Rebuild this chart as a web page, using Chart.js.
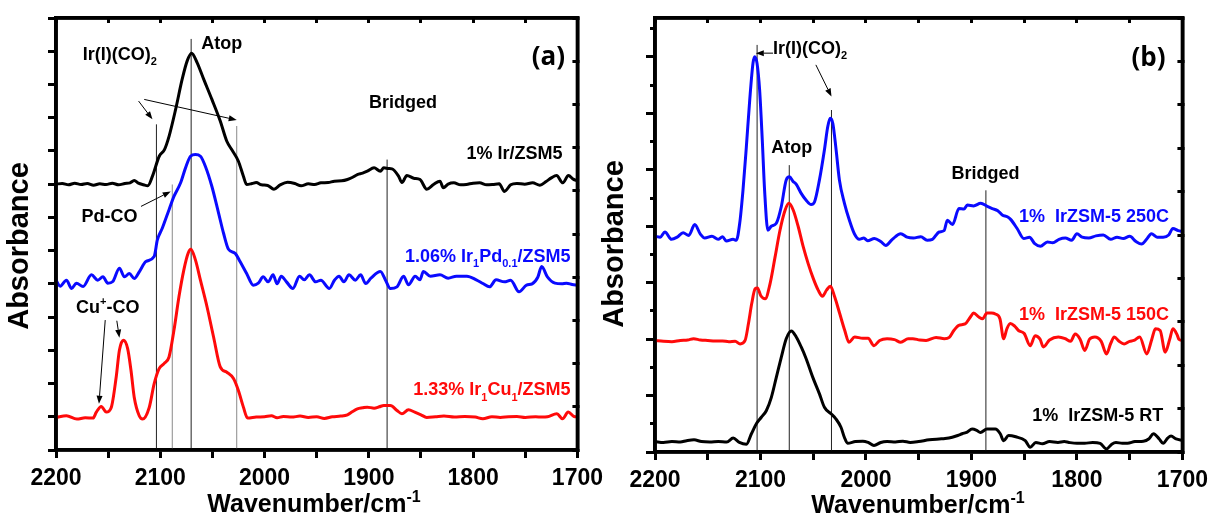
<!DOCTYPE html>
<html>
<head>
<meta charset="utf-8">
<script src="https://cdn.jsdelivr.net/npm/chart.js@4.4.1/dist/chart.umd.min.js"></script>
<style>
  html, body { margin: 0; padding: 0; background: #fff; width: 1215px; height: 521px; overflow: hidden; }
  .panel { position: absolute; top: 0; height: 521px; }
  #pa { left: 0; width: 610px; }
  #pb { left: 598px; width: 617px; }
</style>
</head>
<body>
<div class="panel" id="pa"><canvas id="ca" width="610" height="521"></canvas></div>
<div class="panel" id="pb"><canvas id="cb" width="617" height="521"></canvas></div>
<script>
// ---- x axis (wavenumber, cm^-1) ----
const wavenumberTicks = [2200, 2100, 2000, 1900, 1800, 1700];

// ---- panel (a): offset absorbance, [wavenumber, value] ----
const spectrumIr = [
  [2200,8.0],[2194,8.02],[2188,7.98],[2182,8.03],[2176,7.99],[2170,8.02],[2164,7.97],[2158,8.01],[2152,7.99],[2146,8.03],
  [2140,7.98],[2134,8.02],[2129,8.04],[2125,8.11],[2121,8.03],[2116,7.98],[2112,7.95],[2107.5,8.24],[2101,8.84],[2096,9.04],
  [2091.6,9.44],[2085.3,10.25],[2079,11.16],[2074.2,11.71],[2070,11.94],[2064.7,11.66],[2058.4,11.16],[2050.5,10.55],[2042.5,9.9],[2036.2,9.29],
  [2031.5,9.04],[2025.1,8.69],[2020.3,8.24],[2017.2,7.99],[2012,8.02],[2008,8.05],[2003,7.98],[1997,7.96],[1991,7.85],[1985,7.98],
  [1978,8.06],[1971,8.02],[1965,7.95],[1958,8.01],[1952,7.99],[1946,8.04],[1939,8.05],[1933,8.09],[1926,8.1],[1920.5,8.14],
  [1916,8.2],[1911,8.29],[1906,8.33],[1901.5,8.39],[1895,8.49],[1889,8.39],[1885.7,8.49],[1881,8.47],[1877.8,8.46],[1871.5,8.24],
  [1868.3,8.05],[1863.5,8.26],[1857,8.18],[1850.9,8.14],[1844.5,7.85],[1838,7.99],[1831.8,8.09],[1828.6,7.89],[1824,8.0],[1818.5,8.04],
  [1812,7.98],[1806.5,7.99],[1800,8.03],[1793.8,8.04],[1787,7.98],[1781.2,7.99],[1775,8.01],[1770,7.78],[1764,7.98],[1758,8.02],
  [1750.6,8.0],[1743,8.04],[1736,7.97],[1730,8.08],[1725,8.19],[1720,8.26],[1714,8.04],[1708.6,8.26],[1704,8.15],[1700,8.1]
];
const spectrumIrPd = [
  [2200,5.11],[2196,4.93],[2190,5.11],[2185,4.86],[2180.4,5.02],[2174,4.92],[2166,5.27],[2160,5.11],[2155,5.21],[2150.3,5.02],
  [2145.5,5.07],[2139.2,5.47],[2134.4,5.21],[2129.7,5.31],[2125,5.16],[2120,5.37],[2113.8,5.67],[2105.9,5.82],[2102.8,6.32],[2098,6.68],
  [2091.6,7.23],[2086.9,7.63],[2080.5,8.04],[2075.8,8.49],[2071,8.84],[2066.3,8.89],[2061.5,8.84],[2056.8,8.54],[2050.5,7.93],[2044.1,7.13],
  [2039.4,6.53],[2034.6,6.04],[2028.2,5.92],[2023.5,5.67],[2017.2,5.31],[2010.8,4.96],[2006,5.02],[2001.3,5.21],[1996.6,5.06],[1991.8,5.27],
  [1988,5.0],[1984,5.23],[1979,5.06],[1972.8,4.86],[1966.5,5.23],[1962,5.12],[1957,5.27],[1951,5.06],[1946,5.11],[1937.9,4.86],
  [1933,5.11],[1928.5,5.23],[1924,5.06],[1919,5.27],[1913,5.11],[1907.9,5.27],[1903,5.01],[1898,5.17],[1888.9,5.37],[1884,5.11],
  [1879.4,4.86],[1873,4.91],[1866.7,5.23],[1862,4.97],[1855.6,5.23],[1851,5.12],[1847.7,5.37],[1841,5.23],[1831.8,5.27],[1824,5.17],
  [1816,5.23],[1806,5.23],[1797,5.12],[1790.6,5.01],[1784.3,4.91],[1778,5.12],[1770,5.06],[1764,5.11],[1756,4.76],[1748.8,4.96],
  [1743.4,5.0],[1738,5.2],[1734.3,5.52],[1728.8,5.21],[1721.5,5.02],[1715,5.0],[1710.5,5.02],[1705,4.98],[1700,4.96]
];
const spectrumIrCu = [
  [2200,0.98],[2190,1.03],[2180,0.93],[2172,0.97],[2164.5,0.96],[2161.3,1.14],[2156.6,1.31],[2151.8,1.14],[2147,1.28],[2142.3,2.19],
  [2139.2,3.0],[2135.4,3.3],[2131.3,3.05],[2128.1,2.4],[2125,1.59],[2120.2,1.03],[2117,0.93],[2110.6,1.28],[2105.9,1.99],[2101.1,2.45],
  [2096.4,2.6],[2091.6,2.8],[2086.9,3.6],[2082.1,4.61],[2077.4,5.42],[2073.3,5.92],[2070.7,6.04],[2066.3,5.72],[2061.5,5.11],[2055.2,4.31],
  [2048.9,3.4],[2042.5,2.5],[2036.2,2.34],[2029.8,2.15],[2025.1,1.79],[2020.3,1.29],[2016.3,0.96],[2008,0.99],[2000,1.0],[1993.4,1.03],
  [1988,0.97],[1982,1.01],[1974,0.99],[1966,1.02],[1958,0.98],[1950,1.0],[1942.7,0.95],[1935,1.0],[1927,1.02],[1920.5,1.06],
  [1916,1.15],[1911,1.24],[1906,1.27],[1901.5,1.29],[1895,1.26],[1890,1.3],[1885.7,1.34],[1879.4,1.34],[1873,1.19],[1868.3,1.09],
  [1862,1.21],[1856,1.14],[1850,1.06],[1844.5,0.98],[1836,1.0],[1828,1.02],[1818,0.99],[1808,1.01],[1798,0.99],[1790.7,0.94],
  [1782,1.0],[1774,0.98],[1766,1.0],[1758,1.01],[1750,0.98],[1740,1.0],[1734,0.99],[1728.8,1.0],[1719.7,1.09],[1714.3,0.94],
  [1708.8,1.14],[1703.3,1.01],[1700,1.0]
];

// ---- panel (b): offset absorbance, [wavenumber, value] ----
const spectrum250C = [
  [2200,4.97],[2195,4.95],[2190.6,5.07],[2184.3,4.9],[2179,4.95],[2173.3,5.05],[2168,4.99],[2162.3,5.24],[2157,5.02],[2152.8,4.93],
  [2146,4.97],[2140.2,4.9],[2136,4.96],[2132.3,4.86],[2126,4.9],[2122.9,4.88],[2119.7,5.27],[2116.6,6.03],[2113.4,7.03],[2110.2,8.11],
  [2107.1,8.96],[2105.5,9.11],[2103.3,8.96],[2100.8,8.34],[2098.3,7.19],[2096.1,6.03],[2093,5.11],[2089.8,5.2],[2085,5.27],[2080.3,5.65],
  [2075.6,6.27],[2072.5,6.34],[2069.3,6.24],[2066.2,6.17],[2061.4,5.96],[2056.7,5.8],[2052,5.7],[2048.8,5.76],[2044.1,6.27],[2039.4,6.96],
  [2036.2,7.5],[2033.9,7.69],[2031.4,7.57],[2028.3,6.96],[2025.2,6.27],[2020.4,5.73],[2015.7,5.34],[2011,5.03],[2006.3,4.9],[2002,4.93],
  [1998.4,4.87],[1992,4.92],[1986,4.85],[1981.2,4.76],[1975,4.9],[1967,5.03],[1961,4.95],[1955,4.93],[1948,4.96],[1942,4.88],
  [1937,4.9],[1930.6,5.07],[1926,5.1],[1922.8,5.34],[1918,5.24],[1911.8,5.61],[1907,5.6],[1903.9,5.69],[1898,5.67],[1891.2,5.73],
  [1885,5.66],[1880.3,5.61],[1875,5.56],[1870.8,5.46],[1866,5.42],[1862.9,5.36],[1856.7,5.15],[1850.4,4.92],[1845,4.95],[1840,4.8],
  [1834.6,4.74],[1828,4.84],[1823,4.82],[1817,4.9],[1811,4.93],[1805,4.88],[1800,5.03],[1795,4.95],[1788.8,4.93],[1782,4.98],
  [1775,5.0],[1768,4.9],[1762,4.95],[1756,4.92],[1750,4.97],[1744,4.85],[1738.7,4.79],[1734,4.9],[1729.4,5.03],[1724,4.95],
  [1718.3,4.95],[1713,5.0],[1709,5.15],[1704,5.1],[1700,5.08]
];
const spectrum150C = [
  [2200,2.57],[2192,2.55],[2184,2.54],[2176,2.57],[2169,2.58],[2163.4,2.61],[2157,2.58],[2150,2.57],[2143,2.56],[2136,2.56],
  [2130,2.54],[2124,2.55],[2119.3,2.49],[2114.6,2.57],[2111.4,2.96],[2108.3,3.42],[2105.1,3.76],[2102.9,3.78],[2099.7,3.6],[2095.6,3.53],
  [2090.9,3.88],[2086.2,4.49],[2081.5,5.11],[2076.7,5.57],[2073,5.73],[2068.9,5.57],[2064.2,5.19],[2059.5,4.73],[2054.8,4.34],[2050,4.0],
  [2045.3,3.73],[2041.2,3.59],[2037.4,3.73],[2033.7,3.82],[2029.6,3.57],[2024.9,3.19],[2020.1,2.8],[2016.1,2.53],[2010.7,2.65],[2003,2.62],
  [1998,2.62],[1992.4,2.45],[1987,2.57],[1980,2.61],[1973,2.59],[1967,2.53],[1960,2.61],[1955.6,2.61],[1949,2.58],[1943,2.57],
  [1933.5,2.64],[1925.7,2.61],[1921,2.64],[1916.7,2.8],[1912,2.92],[1906,2.95],[1901,3.11],[1897.9,3.2],[1893,3.11],[1889.4,3.07],
  [1885.3,3.2],[1881,3.2],[1877.4,3.18],[1873,3.07],[1869.5,2.61],[1866.4,2.84],[1863.2,2.96],[1859,2.9],[1855.4,2.8],[1850,2.73],
  [1844.3,2.45],[1839.6,2.68],[1835,2.6],[1831.8,2.42],[1826,2.58],[1817.6,2.65],[1811,2.61],[1806,2.55],[1801.7,2.72],[1797,2.6],
  [1792.6,2.34],[1788,2.6],[1783,2.65],[1777,2.55],[1772,2.26],[1768,2.5],[1764.6,2.65],[1760,2.55],[1755.3,2.49],[1750,2.55],
  [1746,2.57],[1740.5,2.65],[1733.8,2.26],[1729,2.6],[1725.6,2.84],[1721.1,2.8],[1716.3,2.3],[1712,2.6],[1709,2.84],[1705,2.7],
  [1703.4,2.6],[1700,2.57]
];
const spectrumRT = [
  [2200,0.24],[2192,0.22],[2184,0.24],[2176,0.23],[2170,0.26],[2163,0.28],[2156,0.24],[2148,0.23],[2140,0.24],[2132,0.23],
  [2125.9,0.32],[2120,0.22],[2113.3,0.18],[2108.6,0.42],[2103.9,0.65],[2099.2,0.8],[2094.5,0.95],[2089.7,1.26],[2085,1.72],[2080.3,2.18],
  [2075.6,2.61],[2070.8,2.79],[2066.1,2.65],[2061.4,2.42],[2056.7,2.15],[2050.4,1.72],[2044.1,1.34],[2039.4,1.03],[2033.1,0.88],[2028.4,0.76],
  [2023.7,0.57],[2020.5,0.34],[2017.4,0.2],[2010,0.24],[2003,0.25],[1998,0.22],[1992.4,0.15],[1986,0.22],[1980,0.24],[1972,0.23],
  [1965,0.25],[1958,0.22],[1950,0.24],[1940,0.28],[1930.6,0.3],[1925,0.31],[1918.2,0.34],[1913,0.38],[1908.8,0.42],[1904,0.46],
  [1899.4,0.53],[1895,0.5],[1891.5,0.45],[1885.3,0.53],[1880,0.53],[1877.4,0.53],[1872.7,0.42],[1869.5,0.26],[1864.8,0.38],[1858,0.35],
  [1849,0.26],[1844.3,0.11],[1839,0.22],[1832.7,0.19],[1826,0.24],[1818,0.22],[1812,0.24],[1807.6,0.22],[1800,0.2],[1792.7,0.2],
  [1785,0.22],[1778,0.2],[1772,0.07],[1767,0.18],[1763,0.22],[1757,0.2],[1752,0.2],[1745,0.24],[1737,0.25],[1732,0.3],
  [1727.4,0.42],[1722,0.3],[1718.3,0.2],[1714,0.32],[1710.8,0.37],[1706,0.3],[1700,0.27]
];

// ---- band marker lines: [wavenumber, top value] ----
const markersA = [[2103.7, 9.8], [2088.5, 7.99], [2070.4, 12.37], [2026.7, 9.75], [1882.5, 8.74]];
const markersB = [[2103.2, 9.38], [2072.7, 6.61], [2032.7, 7.88], [1886.3, 6.03]];

const FONT = '"Liberation Sans", Arial, Helvetica, sans-serif';
const BLACK = '#000000', BLUE = '#0a0aff', RED = '#ff0a0a';

// "_{..}" subscript, "^{..}" superscript
function parseRich(s) {
  const parts = [], re = /([_^])\{([^}]*)\}/g;
  let last = 0, m;
  while ((m = re.exec(s))) {
    if (m.index > last) parts.push({ t: s.slice(last, m.index), s: 0 });
    parts.push({ t: m[2], s: m[1] === '_' ? -1 : 1 });
    last = re.lastIndex;
  }
  if (last < s.length) parts.push({ t: s.slice(last), s: 0 });
  return parts;
}

function drawRich(ctx, text, x, y, align, size, color, family) {
  const parts = parseRich(text);
  const fontFor = s => `bold ${s === 0 ? size : Math.round(size * 0.62)}px ${family}`;
  ctx.save();
  ctx.fillStyle = color;
  ctx.textBaseline = 'alphabetic';
  ctx.textAlign = 'left';
  let total = 0;
  parts.forEach(p => { ctx.font = fontFor(p.s); total += ctx.measureText(p.t).width; });
  let cx = align === 'right' ? x - total : align === 'center' ? x - total / 2 : x;
  parts.forEach(p => {
    ctx.font = fontFor(p.s);
    const dy = p.s < 0 ? size * 0.3 : p.s > 0 ? -size * 0.42 : 0;
    ctx.fillText(p.t, cx, y + dy);
    cx += ctx.measureText(p.t).width;
  });
  ctx.restore();
}

function drawArrow(ctx, x1, y1, x2, y2) {
  const a = Math.atan2(y2 - y1, x2 - x1), L = 8, W = 3;
  const bx = x2 - L * Math.cos(a), by = y2 - L * Math.sin(a);
  ctx.save();
  ctx.strokeStyle = '#000'; ctx.fillStyle = '#000'; ctx.lineWidth = 1;
  ctx.beginPath(); ctx.moveTo(x1, y1); ctx.lineTo(bx, by); ctx.stroke();
  ctx.beginPath();
  ctx.moveTo(x2, y2);
  ctx.lineTo(bx + W * Math.sin(a), by - W * Math.cos(a));
  ctx.lineTo(bx - W * Math.sin(a), by + W * Math.cos(a));
  ctx.closePath(); ctx.fill();
  ctx.restore();
}

// arrows, peak labels, curve labels and axis titles
const notesPlugin = {
  id: 'notes',
  afterDatasetsDraw(chart, args, o) {
    const ctx = chart.ctx, xs = chart.scales.x, ys = chart.scales[o.yAxis];
    const px = w => xs.getPixelForValue(w), py = v => ys.getPixelForValue(v);
    o.arrows.forEach(a => drawArrow(ctx, px(a[0]), py(a[1]), px(a[2]), py(a[3])));
    o.labels.forEach(l => drawRich(ctx, l.text, px(l.w), py(l.v), l.align, l.size || 18, l.color || BLACK, l.family || FONT));
    // frame
    const ca = chart.chartArea;
    ctx.save();
    ctx.strokeStyle = '#000'; ctx.lineWidth = 3.5;
    ctx.strokeRect(ca.left, ca.top, ca.right - ca.left, ca.bottom - ca.top);
    // y title
    ctx.translate(o.yTitle.x, o.yTitle.y);
    ctx.rotate(-Math.PI / 2);
    ctx.font = `bold 29px ${FONT}`;
    ctx.fillStyle = '#000'; ctx.textAlign = 'center'; ctx.textBaseline = 'middle';
    ctx.fillText('Absorbance', 0, 0);
    ctx.restore();
    drawRich(ctx, 'Wavenumber/cm^{-1}', o.xTitle.x, o.xTitle.y, 'center', 25, BLACK, FONT);
  }
};

function series(points, color, axis) {
  return {
    data: points.map(p => ({ x: p[0], y: p[1] })),
    borderColor: color, borderWidth: 3, pointRadius: 0,
    cubicInterpolationMode: 'monotone', yAxisID: axis, order: 0
  };
}
function markers(list, color, axis) {
  return list.map(m => ({
    data: [{ x: m[0], y: 0 }, { x: m[0], y: m[1] }],
    borderColor: color, borderWidth: 1, pointRadius: 0, yAxisID: axis, order: 10
  }));
}

// frame axes: labelled bottom, plain top/right (inward ticks), left with major + minor ticks
function frameScales(dims, left, rightMax) {
  const border = { display: true, width: 3.5, color: '#000' };
  const tickGrid = len => ({ drawOnChartArea: false, drawTicks: true, tickLength: len, lineWidth: 3, tickWidth: 3, color: '#000', tickColor: '#000' });
  return {
    x: {
      type: 'linear', position: 'bottom', min: 1700, max: 2200, reverse: true,
      afterFit: s => { s.height = dims.bottom; },
      ticks: {
        stepSize: 50, autoSkip: false, maxRotation: 0, padding: 7, color: '#000',
        font: { family: FONT, size: 23, weight: 'bold' },
        callback: v => wavenumberTicks.includes(v) ? String(v) : ''
      },
      grid: tickGrid(8), border
    },
    xt: {
      type: 'linear', position: 'top', min: 1700, max: 2200, reverse: true,
      afterFit: s => { s.height = dims.top; },
      ticks: { stepSize: 50, display: false },
      grid: tickGrid(-5), border
    },
    y: {
      type: 'linear', position: 'left', weight: 1, min: 0, max: left.max,
      afterFit: s => { s.width = dims.left; },
      ticks: { stepSize: left.major, display: false, includeBounds: false },
      grid: tickGrid(left.majorLen), border
    },
    ym: {
      type: 'linear', position: 'left', weight: 0, min: 0, max: left.max,
      afterFit: s => { s.width = 0; },
      ticks: { stepSize: left.minor, display: false, includeBounds: false },
      grid: tickGrid(left.minorLen), border
    },
    yr: {
      type: 'linear', position: 'right', min: 0, max: rightMax,
      afterFit: s => { s.width = dims.right; },
      ticks: { stepSize: 1, display: false, includeBounds: false },
      grid: tickGrid(-5), border
    }
  };
}

function panel(id, datasets, scales, notes) {
  return new Chart(document.getElementById(id), {
    type: 'line',
    data: { datasets },
    options: {
      responsive: false, animation: false, events: [],
      layout: { padding: 0 },
      plugins: { legend: { display: false }, tooltip: { enabled: false }, notes },
      scales
    },
    plugins: [notesPlugin]
  });
}

// (a) 1% Ir, Ir-Pd and Ir-Cu on ZSM5
panel('ca', [
  series(spectrumIr, BLACK, 'y'),
  series(spectrumIrPd, BLUE, 'y'),
  series(spectrumIrCu, RED, 'y'),
  ...markers(markersA.filter((m, i) => i === 1 || i === 3), '#8a8a8a', 'y'),
  ...markers(markersA.filter((m, i) => i !== 1 && i !== 3), '#222', 'y')
], frameScales({ left: 56, right: 27, top: 18, bottom: 71 },
  { max: 13, major: 1, minor: 1, majorLen: 8, minorLen: 8 }, 10), {
  yAxis: 'y',
  arrows: [
    [2120.8, 10.5, 2107.5, 9.95], [2115.4, 10.55, 2026.7, 9.93],
    [2118.5, 7.33, 2090, 7.78],
    [2152.8, 3.91, 2158.8, 1.39], [2141.7, 3.89, 2139.2, 3.38]
  ],
  labels: [
    { text: 'Ir(I)(CO)_{2}', w: 2174.3, v: 11.75, align: 'left' },
    { text: 'Atop', w: 2041, v: 12.06, align: 'center' },
    { text: '(a)', w: 1727.9, v: 11.58, align: 'center', size: 26, family: '"Open Sans", sans-serif' },
    { text: 'Bridged', w: 1867.3, v: 10.3, align: 'center' },
    { text: '1% Ir/ZSM5', w: 1714.3, v: 8.77, align: 'right' },
    { text: 'Pd-CO', w: 2148.7, v: 6.85, align: 'center' },
    { text: '1.06% Ir_{1}Pd_{0.1}/ZSM5', w: 1706.6, v: 5.67, align: 'right', color: BLUE },
    { text: 'Cu^{+}-CO', w: 2150.3, v: 4.13, align: 'center' },
    { text: '1.33% Ir_{1}Cu_{1}/ZSM5', w: 1706.6, v: 1.65, align: 'right', color: RED }
  ],
  yTitle: { x: 20, y: 246 },
  xTitle: { x: 314, y: 512 }
});

// (b) 1% IrZSM-5 at RT, 150C and 250C
panel('cb', [
  series(spectrum250C, BLUE, 'yr'),
  series(spectrum150C, RED, 'yr'),
  series(spectrumRT, BLACK, 'yr'),
  ...markers(markersB, '#222', 'yr')
], frameScales({ left: 57, right: 31, top: 18, bottom: 69 },
  { max: 7.69, major: 1, minor: 0.5, majorLen: 9, minorLen: 5 }, 10), {
  yAxis: 'yr',
  arrows: [[2088.1, 9.19, 2104.4, 9.19], [2047.5, 8.92, 2032.7, 8.19]],
  labels: [
    { text: 'Ir(I)(CO)_{2}', w: 2088.1, v: 9.18, align: 'left' },
    { text: 'Atop', w: 2070.4, v: 6.88, align: 'center' },
    { text: '(b)', w: 1732.1, v: 8.9, align: 'center', size: 26, family: '"Open Sans", sans-serif' },
    { text: 'Bridged', w: 1886.7, v: 6.3, align: 'center' },
    { text: '1%  IrZSM-5 250C', w: 1712.7, v: 5.3, align: 'right', color: BLUE },
    { text: '1%  IrZSM-5 150C', w: 1712.7, v: 3.05, align: 'right', color: RED },
    { text: '1%  IrZSM-5 RT', w: 1718.2, v: 0.71, align: 'right' }
  ],
  yTitle: { x: 17, y: 244 },
  xTitle: { x: 320, y: 513 }
});
</script>
</body>
</html>
